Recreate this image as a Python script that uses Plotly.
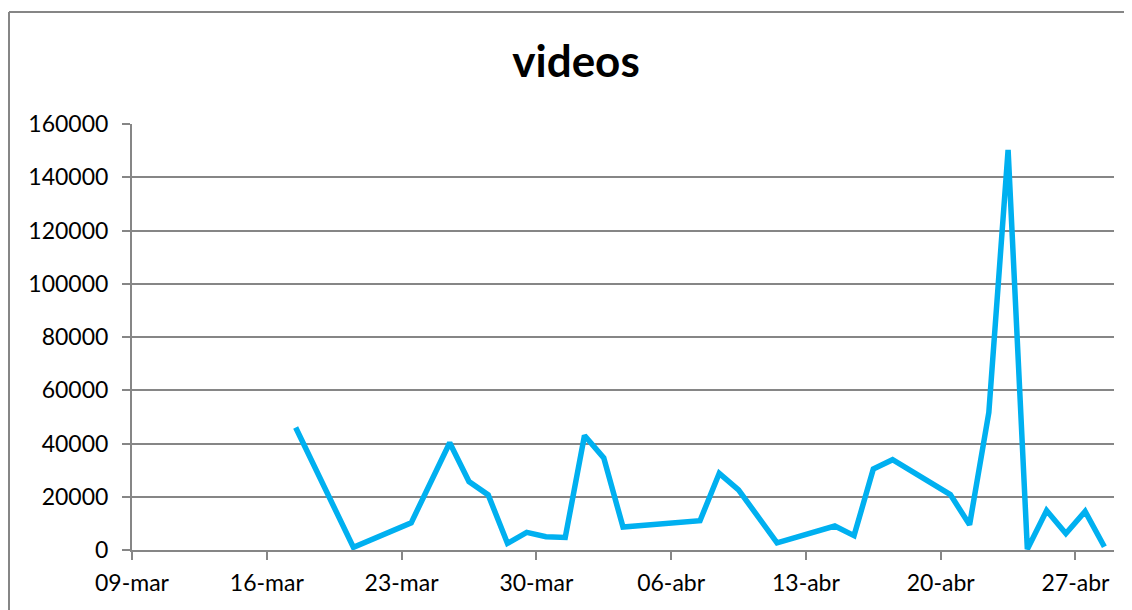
import plotly.graph_objects as go
import pandas as pd

# datos
fechas = ['2020-03-17', '2020-03-20', '2020-03-23', '2020-03-25', '2020-03-26',
          '2020-03-27', '2020-03-28', '2020-03-29', '2020-03-30', '2020-03-31',
          '2020-04-01', '2020-04-02', '2020-04-03', '2020-04-07', '2020-04-08',
          '2020-04-09', '2020-04-11', '2020-04-14', '2020-04-15', '2020-04-16',
          '2020-04-17', '2020-04-20', '2020-04-21', '2020-04-22', '2020-04-23',
          '2020-04-24', '2020-04-25', '2020-04-26', '2020-04-27', '2020-04-28']
videos = [46000, 1000, 10200, 40300, 25700,
          20700, 2500, 6600, 5000, 4700,
          43000, 34600, 8600, 11000, 28800,
          22600, 2700, 9000, 5400, 30400,
          33900, 20800, 9500, 51700, 150300,
          300, 14800, 6200, 14500, 1200]

semanas = ['2020-03-09', '2020-03-16', '2020-03-23', '2020-03-30',
           '2020-04-06', '2020-04-13', '2020-04-20', '2020-04-27']
etiquetas = ['09-mar', '16-mar', '23-mar', '30-mar', '06-abr', '13-abr', '20-abr', '27-abr']

GRIS = '#868686'

# Excel centra cada punto en su día
x = pd.to_datetime(fechas) + pd.Timedelta(hours=12)

fig = go.Figure()
fig.add_trace(go.Scatter(
    x=x, y=videos, mode='lines',
    line=dict(color='#00B0F0', width=5.5),
    showlegend=False
))

# la página deja 8px de margen en el body
W, H = 1124, 602
ml, mr, mt, mb = 124, 18, 116, 60
pw, ph = W - ml - mr, H - mt - mb

fig.update_layout(
    width=W, height=H,
    margin=dict(l=ml, r=mr, t=mt, b=mb),
    paper_bgcolor='white', plot_bgcolor='white',
    font=dict(family='Lato, Open Sans, sans-serif', size=23, color='black'),
    title=dict(text='<b>videos</b>', x=568 / W, xref='container', xanchor='center',
               y=1 - 54 / H, yref='container', yanchor='middle',
               font=dict(size=44, color='black')),
    xaxis=dict(
        type='date', range=['2020-03-09', '2020-04-29'],
        tickvals=semanas, ticktext=etiquetas,
        showgrid=False, showline=True, linecolor=GRIS, linewidth=2,
        ticks='outside', ticklen=8, tickwidth=2, tickcolor=GRIS,
        ticklabelstandoff=3, zeroline=False
    ),
    yaxis=dict(
        range=[0, 160000], dtick=20000, tickformat='d',
        showgrid=True, gridcolor=GRIS, gridwidth=1.5,
        showline=True, linecolor=GRIS, linewidth=2,
        ticks='outside', ticklen=8, tickwidth=2, tickcolor=GRIS,
        ticklabelstandoff=9, zeroline=False
    ),
)

# marco del gráfico: solo se ven el borde izquierdo y el superior
izq = (1 - ml) / pw
arriba = (H - mb - 4) / ph
fig.add_shape(type='line', xref='paper', yref='paper',
              x0=izq, x1=izq, y0=-mb / ph, y1=arriba,
              line=dict(color=GRIS, width=2), layer='below')
fig.add_shape(type='line', xref='paper', yref='paper',
              x0=izq, x1=(W - ml) / pw, y0=arriba, y1=arriba,
              line=dict(color=GRIS, width=2), layer='below')

fig.write_html("out.html", config={'displayModeBar': False})
